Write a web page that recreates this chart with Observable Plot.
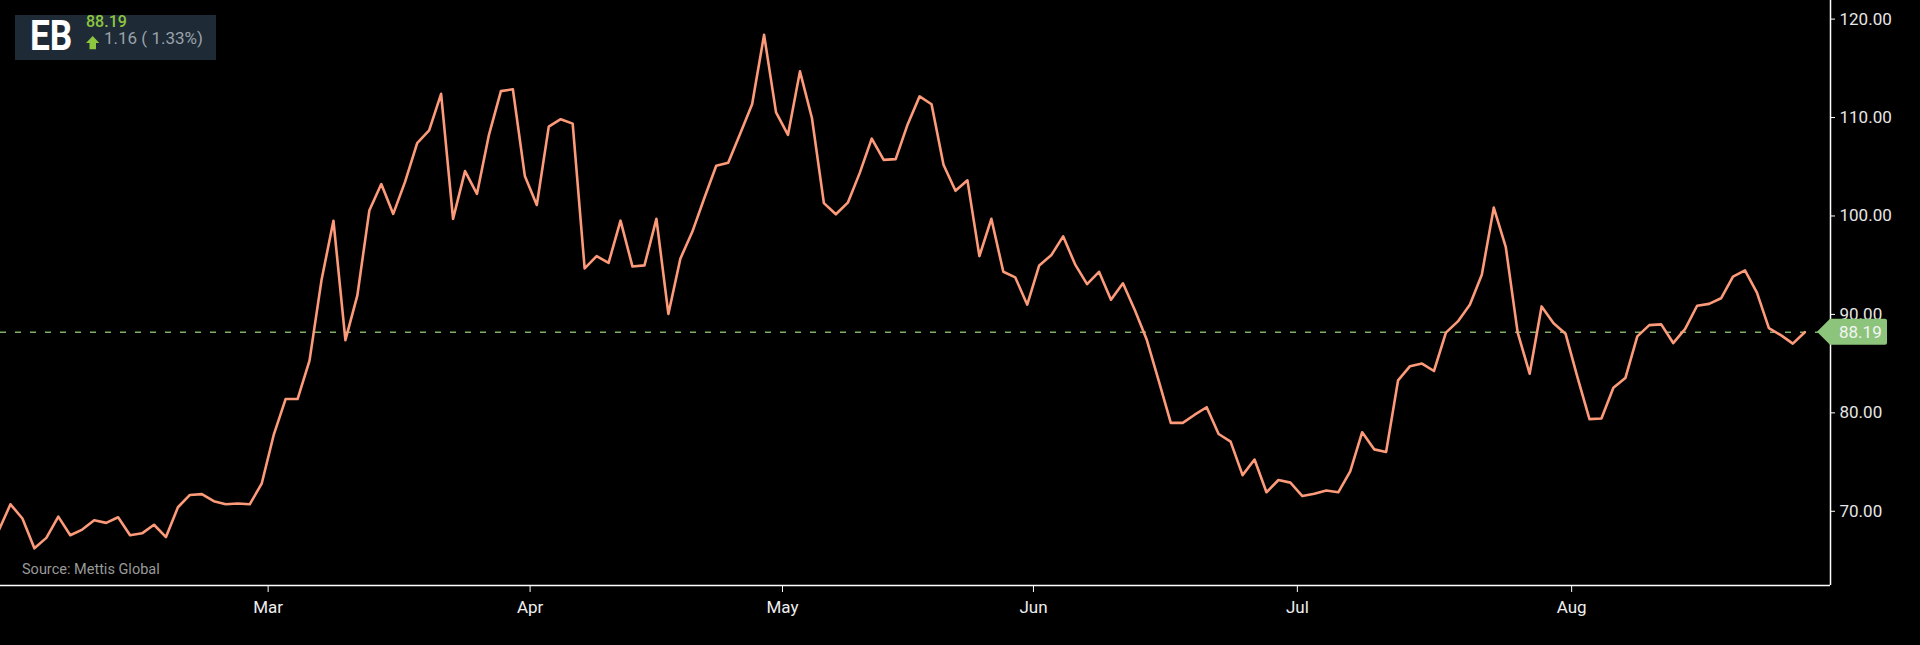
<!DOCTYPE html>
<html>
<head>
<meta charset="utf-8">
<script src="https://cdn.jsdelivr.net/npm/d3@7"></script>
<script src="https://cdn.jsdelivr.net/npm/@observablehq/plot@0.6"></script>
<style>
  html, body { margin: 0; padding: 0; background: #000; overflow: hidden; }
  #chart { width: 1920px; height: 645px; }
</style>
</head>
<body>
<div id="chart"></div>
<script>
// ---- data ----
const ticker = "EB";
const lastPrice = 88.19;
const changeAbs = 1.16;
const changePct = 1.33;
const sourceText = "Source: Mettis Global";

const prices = [
  68.0, 70.71, 69.27, 66.24, 67.30, 69.46, 67.57, 68.14, 69.08, 68.82,
  69.39, 67.57, 67.76, 68.63, 67.38, 70.41, 71.66, 71.74, 71.02, 70.71,
  70.79, 70.71, 72.80, 77.73, 81.40, 81.40, 85.31, 93.46, 99.52, 87.39,
  91.94, 100.55, 103.24, 100.21, 103.51, 107.41, 108.70, 112.41, 99.71, 104.56,
  102.25, 108.24, 112.68, 112.87, 104.07, 101.12, 109.08, 109.83, 109.38, 94.67,
  95.92, 95.24, 99.52, 94.86, 94.98, 99.71, 90.05, 95.66, 98.39, 101.80,
  105.10, 105.40, 108.36, 111.35, 118.40, 110.52, 108.24, 114.69, 109.95, 101.31,
  100.17, 101.35, 104.38, 107.86, 105.70, 105.78, 109.30, 112.15, 111.35, 105.21,
  102.56, 103.62, 95.92, 99.71, 94.33, 93.76, 90.99, 94.98, 96.00, 97.93,
  95.09, 93.08, 94.33, 91.49, 93.16, 90.43, 87.39, 83.22, 78.98, 78.98,
  79.81, 80.57, 77.85, 77.08, 73.67, 75.26, 71.93, 73.18, 72.91, 71.55,
  71.78, 72.12, 71.93, 74.05, 78.03, 76.29, 76.02, 83.30, 84.74, 85.01,
  84.25, 88.15, 89.29, 90.99, 94.03, 100.85, 96.87, 88.15, 83.98, 90.81,
  89.10, 88.04, 83.60, 79.36, 79.43, 82.54, 83.53, 87.77, 88.91, 88.99,
  87.09, 88.53, 90.88, 91.07, 91.64, 93.84, 94.48, 92.21, 88.61, 87.89,
  87.03, 88.19
];

// month-start positions on the trading-day index axis
const monthTicks = [22.54, 44.44, 65.54, 86.52, 108.58, 131.51];
const monthLabels = ["Mar", "Apr", "May", "Jun", "Jul", "Aug"];
const yTicks = [70, 80, 90, 100, 110, 120];

const xDomain = [0.167, 153.15];
const yDomain = [62.46, 121.89];

const data = prices.map((v, i) => ({ i, v }));

const W = 1920, H = 645;
const plot = Plot.plot({
  width: W,
  height: H,
  marginLeft: 0,
  marginTop: 0,
  marginRight: 90,
  marginBottom: 60,
  style: { background: "#000", color: "#e8e8e8", fontFamily: "Roboto, sans-serif", fontSize: "17px" },
  x: { domain: xDomain, axis: null },
  y: { domain: yDomain, axis: null },
  marks: [
    Plot.ruleY([lastPrice], { stroke: "#7fb069", strokeWidth: 1.5, strokeDasharray: "6,9" }),
    Plot.line(data, { x: "i", y: "v", stroke: "#fc9a7a", strokeWidth: 2.6, clip: true }),
    Plot.ruleX([xDomain[1]], { stroke: "#ffffff", strokeWidth: 1.5 }),
    Plot.ruleY([yDomain[0]], { stroke: "#ffffff", strokeWidth: 1.5 }),
    Plot.axisX({
      ticks: monthTicks,
      tickFormat: d => monthLabels[monthTicks.indexOf(d)],
      tickSize: 7,
      tickPadding: 8,
      label: null,
      stroke: "#ffffff",
      fill: "#eeeeee"
    }),
    Plot.axisY({
      anchor: "right",
      ticks: yTicks,
      tickFormat: d => d.toFixed(2),
      tickSize: 4,
      tickPadding: 5,
      label: null,
      stroke: "#ffffff",
      fill: "#e6e6e6"
    })
  ]
});

document.getElementById("chart").appendChild(plot);

const svg = d3.select(plot);
const yScale = plot.scale("y");
const yLast = yScale.apply(lastPrice);
const xRight = W - 90;

// price tag
const tag = svg.append("g").attr("text-anchor", "start");
tag.append("path")
  .attr("d", `M${xRight - 13},${yLast} L${xRight},${yLast - 13} H${xRight + 55} Q${xRight + 57},${yLast - 13} ${xRight + 57},${yLast - 11} V${yLast + 11} Q${xRight + 57},${yLast + 13} ${xRight + 55},${yLast + 13} H${xRight} Z`)
  .attr("fill", "#8cc47c");
tag.append("text")
  .attr("x", xRight + 9)
  .attr("y", yLast)
  .attr("dy", "0.36em")
  .attr("fill", "#f4f4f4")
  .attr("font-size", 17)
  .text(lastPrice.toFixed(2));

// source
svg.append("text")
  .attr("text-anchor", "start")
  .attr("x", 22)
  .attr("y", 574)
  .attr("fill", "#9a9a9a")
  .attr("font-size", 14.5)
  .text(sourceText);

// ticker legend box
const lg = svg.append("g").attr("text-anchor", "start");
lg.append("rect").attr("x", 15).attr("y", 15).attr("width", 201).attr("height", 45).attr("fill", "#1e2a36");
lg.append("text")
  .attr("transform", "translate(30,50) scale(0.84,1)")
  .attr("fill", "#ffffff")
  .attr("font-size", 42)
  .attr("font-weight", 700)
  .text(ticker);
lg.append("text")
  .attr("x", 86)
  .attr("y", 27)
  .attr("fill", "#8dc63f")
  .attr("font-size", 16)
  .attr("font-weight", 500)
  .text(lastPrice.toFixed(2));
lg.append("path")
  .attr("d", "M92.7,36 L99.3,43 L96,43 L96,49.3 L89.5,49.3 L89.5,43 L86,43 Z")
  .attr("fill", "#8dc63f");
lg.append("text")
  .attr("x", 104)
  .attr("y", 44)
  .attr("fill", "#9aa2aa")
  .attr("font-size", 17)
  .text(`${changeAbs.toFixed(2)} ( ${changePct.toFixed(2)}%)`);
</script>
</body>
</html>
